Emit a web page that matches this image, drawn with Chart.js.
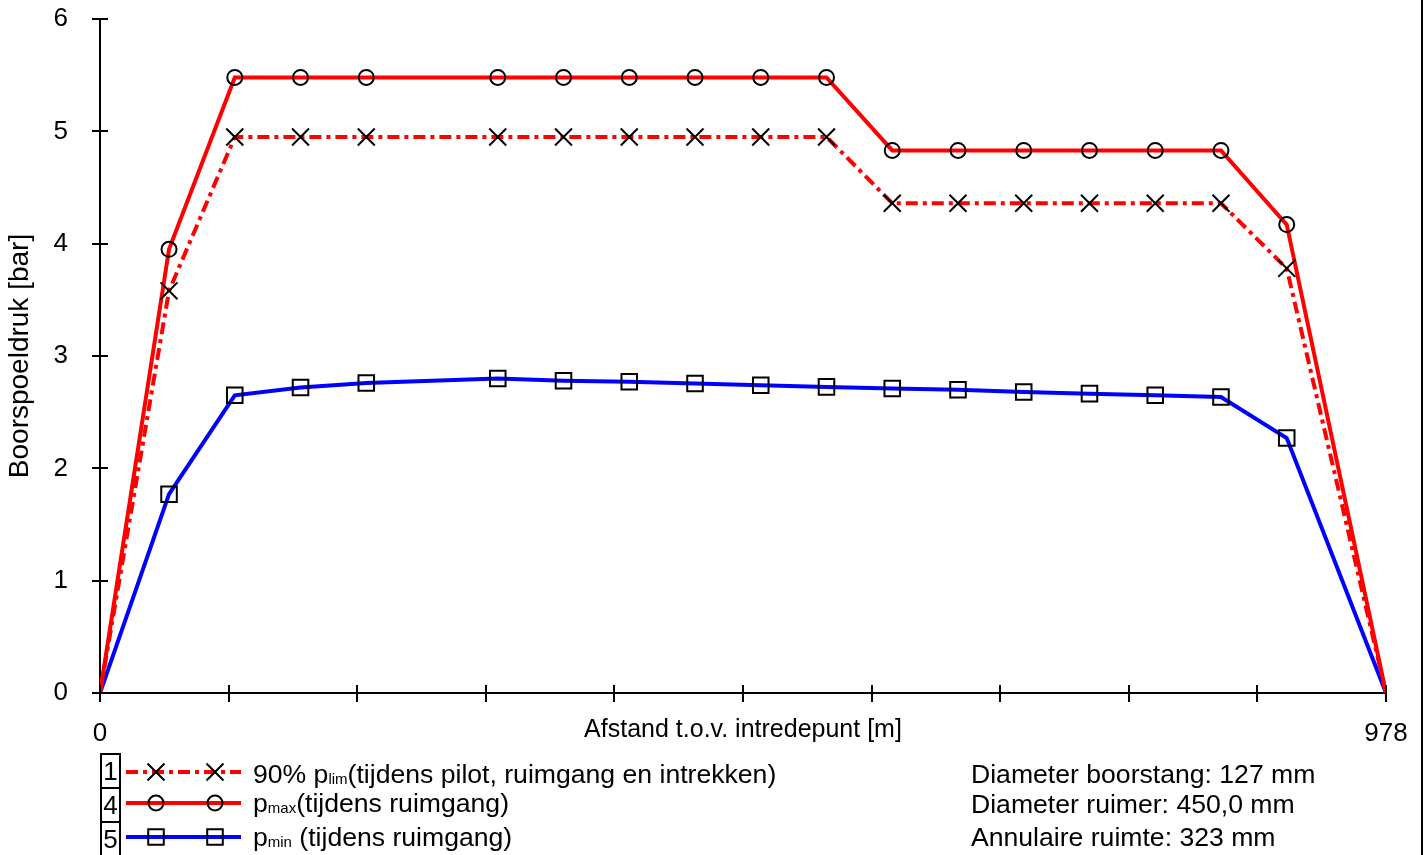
<!DOCTYPE html>
<html><head><meta charset="utf-8">
<script src="https://cdn.jsdelivr.net/npm/chart.js@4.4.1/dist/chart.umd.min.js"></script>
<style>
html,body{margin:0;padding:0;background:#fff;}
#wrap{position:relative;width:1426px;height:855px;overflow:hidden;font-family:"Liberation Sans",Arial,sans-serif;color:#000;}
#c{position:absolute;left:0;top:0;}
.t{position:absolute;font-size:26.6px;line-height:30px;white-space:nowrap;}
.t sub{font-size:15px;vertical-align:-1px;line-height:0;}
.num{position:absolute;font-size:26px;line-height:30px;width:19px;text-align:center;}
#frame{position:absolute;left:1421px;top:0;width:2px;height:855px;background:#000;}
</style></head>
<body><div id="wrap">
<canvas id="c" width="1426" height="855"></canvas>
<div id="frame"></div>
<div class="num" style="left:101px;top:756px">1</div>
<div class="num" style="left:101px;top:790px">4</div>
<div class="num" style="left:101px;top:824px">5</div>
<div class="t" style="left:253px;top:759px">90% p<sub>lim</sub>(tijdens pilot, ruimgang en intrekken)</div>
<div class="t" style="left:253px;top:788px">p<sub>max</sub>(tijdens ruimgang)</div>
<div class="t" style="left:253px;top:822px">p<sub>min</sub> (tijdens ruimgang)</div>
<div class="t" style="left:971px;top:759px">Diameter boorstang: 127 mm</div>
<div class="t" style="left:971px;top:789px">Diameter ruimer: 450,0 mm</div>
<div class="t" style="left:971px;top:822px">Annulaire ruimte: 323 mm</div>
</div>
<script>
// ---- data ----
const distance = [0, 52.5, 102.5, 152.5, 202.5, 302.5, 352.5, 402.5, 452.5, 502.5, 552.5, 602.5, 652.5, 702.5, 752.5, 802.5, 852.5, 902.5, 978];
const pLim90 = [0, 3.58, 4.95, 4.95, 4.95, 4.95, 4.95, 4.95, 4.95, 4.95, 4.95, 4.36, 4.36, 4.36, 4.36, 4.36, 4.36, 3.78, 0];
const pMax   = [0, 3.95, 5.48, 5.48, 5.48, 5.48, 5.48, 5.48, 5.48, 5.48, 5.48, 4.83, 4.83, 4.83, 4.83, 4.83, 4.83, 4.17, 0];
const pMin   = [0, 1.77, 2.65, 2.72, 2.76, 2.80, 2.78, 2.77, 2.755, 2.74, 2.725, 2.71, 2.70, 2.68, 2.665, 2.65, 2.635, 2.27, 0];
const xTickValues = [0, 97.8, 195.6, 293.4, 391.2, 489, 586.8, 684.6, 782.4, 880.2, 978];
const xTickLabels = ['0', '', '', '', '', '', '', '', '', '', '978'];
const yTickValues = [0, 1, 2, 3, 4, 5, 6];

const FONT = '"Liberation Sans", Arial, sans-serif';
const FS = 26;
const DASH = [12, 5, 4, 5];
const pts = arr => distance.map((d, i) => ({x: d, y: arr[i]}));
const endR = r => ctx => (ctx.dataIndex === 0 || ctx.dataIndex === distance.length - 1) ? 0 : r;
const R = {cross: 12, circle: 7.5, rect: 11};

const extras = {
  id: 'extras',
  afterDraw(chart) {
    const ctx = chart.ctx, xs = chart.scales.x, ys = chart.scales.y;
    ctx.save();
    ctx.strokeStyle = '#000';
    ctx.lineWidth = 2;
    ctx.beginPath();
    xs.ticks.forEach(t => { const px = Math.round(xs.getPixelForValue(t.value)); ctx.moveTo(px, ys.bottom - 8); ctx.lineTo(px, ys.bottom + 9); });
    ys.ticks.forEach(t => { const py = Math.round(ys.getPixelForValue(t.value)); ctx.moveTo(xs.left - 8, py); ctx.lineTo(xs.left + 8, py); });
    // legend number box
    ctx.moveTo(101, 754); ctx.lineTo(101, 856);
    ctx.moveTo(120, 754); ctx.lineTo(120, 856);
    ctx.moveTo(100, 754); ctx.lineTo(121, 754);
    ctx.moveTo(100, 788); ctx.lineTo(121, 788);
    ctx.moveTo(100, 822); ctx.lineTo(121, 822);
    ctx.stroke();
    // legend samples
    const rows = [
      {y: 772, color: '#ff0000', dash: DASH, style: 'crossRot', r: R.cross},
      {y: 803, color: '#ff0000', dash: [], style: 'circle', r: R.circle},
      {y: 837, color: '#0000ff', dash: [], style: 'rect', r: R.rect}
    ];
    rows.forEach(rw => {
      ctx.save();
      ctx.strokeStyle = rw.color; ctx.lineWidth = 4; ctx.setLineDash(rw.dash);
      ctx.beginPath(); ctx.moveTo(126, rw.y); ctx.lineTo(241, rw.y); ctx.stroke();
      ctx.restore();
      [156, 215].forEach(px => {
        ctx.save();
        ctx.strokeStyle = '#000'; ctx.fillStyle = 'rgba(0,0,0,0)'; ctx.lineWidth = 2; ctx.setLineDash([]);
        Chart.helpers.drawPoint(ctx, {pointStyle: rw.style, radius: rw.r, borderWidth: 2, rotation: 0}, px, rw.y);
        ctx.restore();
      });
    });
    ctx.restore();
  }
};

const chart = new Chart(document.getElementById('c'), {
  type: 'line',
  data: {
    datasets: [
      {label: '90% plim', data: pts(pLim90), borderColor: '#ff0000', borderWidth: 4, borderDash: DASH,
       pointStyle: 'crossRot', pointRadius: endR(R.cross), pointBorderColor: '#000', pointBorderWidth: 2, pointBackgroundColor: 'rgba(0,0,0,0)', tension: 0, fill: false},
      {label: 'pmax', data: pts(pMax), borderColor: '#ff0000', borderWidth: 4,
       pointStyle: 'circle', pointRadius: endR(R.circle), pointBorderColor: '#000', pointBorderWidth: 2, pointBackgroundColor: 'rgba(0,0,0,0)', tension: 0, fill: false},
      {label: 'pmin', data: pts(pMin), borderColor: '#0000ff', borderWidth: 4,
       pointStyle: 'rect', pointRadius: endR(R.rect), pointBorderColor: '#000', pointBorderWidth: 2, pointBackgroundColor: 'rgba(0,0,0,0)', tension: 0, fill: false}
    ]
  },
  options: {
    responsive: false, animation: false, devicePixelRatio: 1,
    layout: {padding: {left: 0, top: 19, right: 40, bottom: 102}},
    plugins: {legend: {display: false}, tooltip: {enabled: false}},
    scales: {
      x: {
        type: 'linear', min: 0, max: 978,
        afterBuildTicks: s => { s.ticks = xTickValues.map(v => ({value: v})); },
        afterFit: s => { s.height = 60; },
        grid: {display: false},
        border: {display: true, color: '#000', width: 2},
        ticks: {autoSkip: false, maxRotation: 0, padding: 17, color: '#000', font: {family: FONT, size: FS},
                callback: (v, i) => xTickLabels[i]},
        title: {display: true, text: 'Afstand t.o.v. intredepunt [m]', color: '#000', font: {family: FONT, size: 25}, padding: {top: 0, bottom: 8}}
      },
      y: {
        min: 0, max: 6,
        afterBuildTicks: s => { s.ticks = yTickValues.map(v => ({value: v})); },
        afterFit: s => { s.width = 100; s.paddingTop = 0; s.paddingBottom = 0; },
        grid: {display: false},
        border: {display: true, color: '#000', width: 2},
        ticks: {padding: 24, color: '#000', font: {family: FONT, size: FS}},
        title: {display: true, text: 'Boorspoeldruk [bar]', color: '#000', font: {family: FONT, size: 28}, padding: {top: 3, bottom: 0}}
      }
    }
  },
  plugins: [extras]
});

// calibrate the plot area so it sits where the reference's plot area is
const target = {top: 19, right: 1386, bottom: 693};
for (let k = 0; k < 2; k++) {
  const ca = chart.chartArea;
  const p = Object.assign({}, chart.options.layout.padding);
  const np = {left: 0, top: p.top + (target.top - ca.top), right: p.right + (ca.right - target.right), bottom: p.bottom + (ca.bottom - target.bottom)};
  if (np.top === p.top && np.right === p.right && np.bottom === p.bottom) break;
  chart.options.layout.padding = np;
  chart.update('none');
}
</script>
</body></html>
